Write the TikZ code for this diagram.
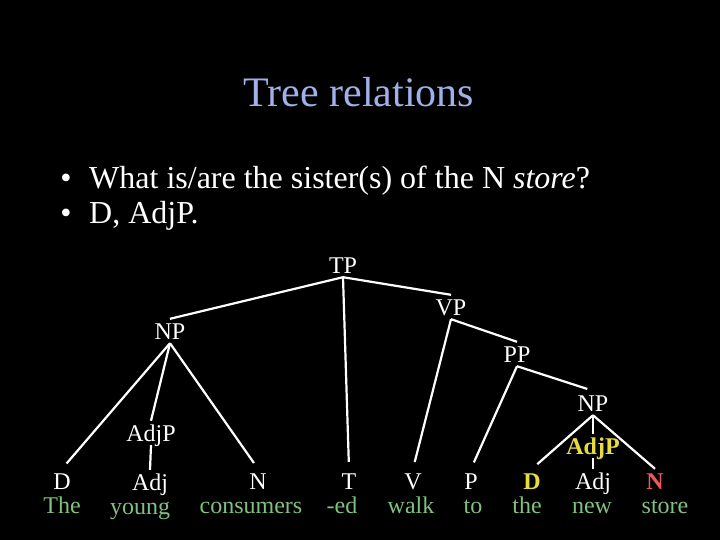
\documentclass[tikz,border=0pt]{standalone}
\usepackage{fontspec}
\setmainfont{Liberation Serif}
\definecolor{titleblue}{RGB}{160,176,232}
\definecolor{wgreen}{RGB}{128,192,128}
\definecolor{hyellow}{RGB}{230,220,60}
\definecolor{hred}{RGB}{232,90,90}
\begin{document}
\begin{tikzpicture}[x=1pt,y=-1pt,
  cat/.style={font=\fontsize{24}{24}\selectfont, text=white, anchor=base, inner xsep=0pt, inner ysep=4pt, text height=16pt, text depth=0pt},
  word/.style={font=\fontsize{24}{24}\selectfont, text=wgreen, anchor=base, inner sep=0pt},
  edge/.style={draw=white, line width=2.2pt},
  leaf/.style={edge, shorten >=7pt},
  bul/.style={font=\fontsize{32}{32}\selectfont, text=white, anchor=base west, inner sep=0pt}]
\fill[black] (0,0) rectangle (720,540);
\useasboundingbox (0,0) rectangle (720,540);
% title
\node[font=\fontsize{42}{42}\selectfont, text=titleblue, anchor=base, inner sep=0pt] (title) at (359,107) {Tree relations};
% bullets
\node[bul, anchor=base] (b1) at (66,189) {\textbullet};
\node[bul] (t1) at (89,189) {What is/are the sister(s) of the N \textit{store}?};
\node[bul, anchor=base] (b2) at (66,224) {\textbullet};
\node[bul] (t2) at (89,224) {D, AdjP.};
% tree nodes
\node[cat] (TP) at (343,273) {TP};
\node[cat] (VP) at (451,315) {VP};
\node[cat] (NP) at (170,339) {NP};
\node[cat] (PP) at (517,362) {PP};
\node[cat] (NPb) at (593,411) {NP};
\node[cat] (AdjP) at (151,441) {AdjP};
\node[cat, text=hyellow, font=\fontsize{24}{24}\selectfont\bfseries] (AdjPb) at (593,454) {AdjP};
\node[cat] (D) at (62,489) {D};
\node[cat] (Adj) at (150,490) {Adj};
\node[cat] (N) at (258,489) {N};
\node[cat] (T) at (349,489) {T};
\node[cat] (V) at (413,489) {V};
\node[cat] (P) at (471,489) {P};
\node[cat, text=hyellow, font=\fontsize{24}{24}\selectfont\bfseries] (Db) at (532,489) {D};
\node[cat] (Adjb) at (593,489) {Adj};
\node[cat, text=hred, font=\fontsize{24}{24}\selectfont\bfseries] (Nb) at (655,489) {N};
% words
\node[word] (w1) at (62,513) {The};
\node[word] (w2) at (140,514) {young};
\node[word] (w3) at (251,513) {consumers};
\node[word] (w4) at (342,513) {-ed};
\node[word] (w5) at (411,513) {walk};
\node[word] (w6) at (473,513) {to};
\node[word] (w7) at (527,513) {the};
\node[word] (w8) at (592,513) {new};
\node[word] (w9) at (665,513) {store};
% edges
\draw[edge] (TP.south) -- (NP.north);
\draw[edge] (TP.south) -- (VP.north);
\draw[leaf] (TP.south) -- (T.north);
\draw[leaf] (NP.south) -- (D.north);
\draw[edge] (NP.south) -- (AdjP.north);
\draw[leaf] (NP.south) -- (N.north);
\draw[edge] (AdjP.south) -- (Adj.north);
\draw[leaf] (VP.south) -- (V.north);
\draw[edge] (VP.south) -- (PP.north);
\draw[leaf] (PP.south) -- (P.north);
\draw[edge, shorten >=6pt] (PP.south) -- (NPb.north);
\draw[leaf] (NPb.south) -- (Db.north);
\draw[edge] (NPb.south) -- (AdjPb.north);
\draw[edge] (AdjPb.south) -- (Adjb.north);
\draw[edge] (NPb.south) -- (Nb.north);
\end{tikzpicture}
\end{document}
